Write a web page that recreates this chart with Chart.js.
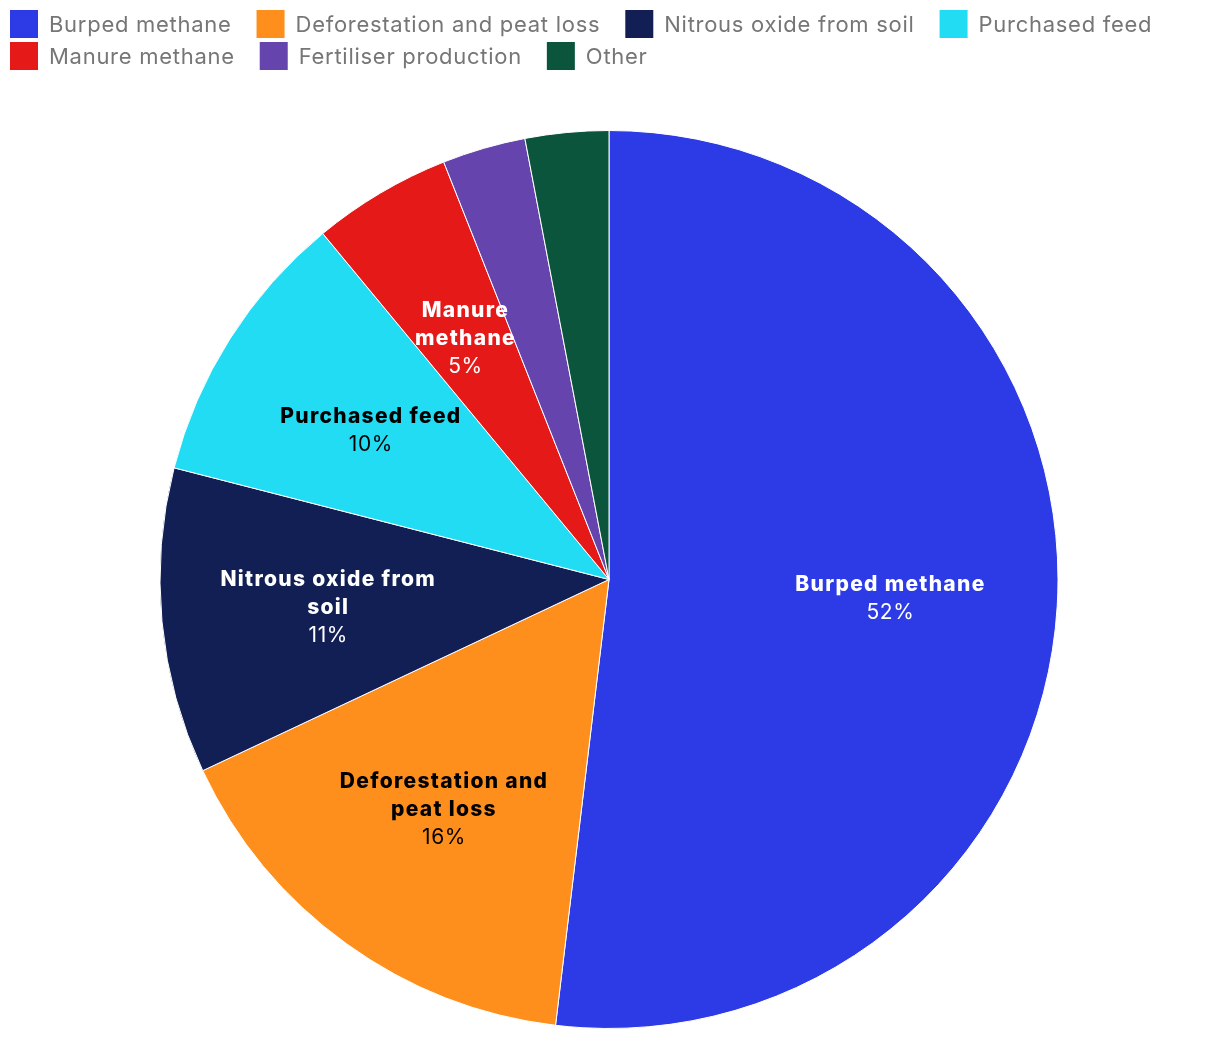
<!DOCTYPE html>
<html>
<head>
<meta charset="utf-8">
<script src="https://cdn.jsdelivr.net/npm/chart.js@4/dist/chart.umd.min.js"></script>
<style>
html,body{margin:0;padding:0;background:#fff;}
#wrap{width:1220px;height:1040px;}
</style>
</head>
<body>
<div id="wrap"><canvas id="c" width="1220" height="1040"></canvas></div>
<script>
const categories = ["Burped methane","Deforestation and peat loss","Nitrous oxide from soil","Purchased feed","Manure methane","Fertiliser production","Other"];
const shares = [51.9, 16.1, 11.0, 10.0, 5.0, 3.0, 3.0];
const colors = ["#2c3be6","#ff8f1c","#111f55","#22dcf4","#e61919","#6544ad","#0a553b"];
const labelLines = [["Burped methane"],["Deforestation and","peat loss"],["Nitrous oxide from","soil"],["Purchased feed"],["Manure","methane"],null,null];
const labelColors = ["#ffffff","#000000","#ffffff","#000000","#ffffff",null,null];

const FONT = "Inter, 'Noto Sans', sans-serif";

const sliceLabels = {
  id: 'sliceLabels',
  afterDatasetsDraw(chart) {
    const ctx = chart.ctx;
    const meta = chart.getDatasetMeta(0);
    const data = chart.data.datasets[0].data;
    meta.data.forEach((arc, i) => {
      if (!labelLines[i]) return;
      const p = arc.getProps(['x','y','startAngle','endAngle','outerRadius'], true);
      const mid = (p.startAngle + p.endAngle) / 2;
      const r = p.outerRadius * 0.628;
      const cx = p.x + Math.cos(mid) * r;
      const cy = p.y + Math.sin(mid) * r + 2;
      const lines = labelLines[i].map(t => ({t, bold:true}));
      lines.push({t: Math.round(data[i]) + '%', bold:false});
      const lh = 28;
      const y0 = cy - (lines.length - 1) * lh / 2;
      ctx.save();
      ctx.fillStyle = labelColors[i];
      ctx.textAlign = 'center';
      ctx.textBaseline = 'middle';
      lines.forEach((ln, k) => {
        if (ln.bold) {
          ctx.font = '800 21px ' + FONT;
          ctx.letterSpacing = '1.3px';
        } else {
          ctx.font = '400 21px ' + FONT;
          ctx.letterSpacing = '0.6px';
        }
        ctx.fillText(ln.t, cx, y0 + k * lh);
      });
      ctx.restore();
    });
  }
};

const topLegend = {
  id: 'topLegend',
  afterDraw(chart) {
    const ctx = chart.ctx;
    ctx.save();
    ctx.font = '400 22px ' + FONT;
    ctx.letterSpacing = '0.72px';
    ctx.textBaseline = 'middle';
    ctx.textAlign = 'left';
    const box = 28, gapText = 11, gapItem = 25, rowH = 32, left = 10, maxX = chart.width - 10;
    let x = left, y = 10;
    categories.forEach((name, i) => {
      const w = ctx.measureText(name).width;
      const itemW = box + gapText + w;
      if (x + itemW > maxX && x > left) { x = left; y += rowH; }
      ctx.fillStyle = colors[i];
      ctx.fillRect(x, y, box, box);
      ctx.fillStyle = '#767676';
      ctx.fillText(name, x + box + gapText, y + box / 2 + 1);
      x += itemW + gapItem;
    });
    ctx.restore();
  }
};

new Chart(document.getElementById('c'), {
  type: 'pie',
  data: {
    labels: categories,
    datasets: [{
      data: shares,
      backgroundColor: colors,
      borderColor: '#ffffff',
      borderWidth: 1
    }]
  },
  options: {
    responsive: false,
    animation: false,
    layout: { padding: { top: 130, bottom: 11, left: 0, right: 2 } },
    plugins: {
      tooltip: { enabled: false },
      legend: { display: false }
    }
  },
  plugins: [sliceLabels, topLegend]
});
</script>
</body>
</html>
